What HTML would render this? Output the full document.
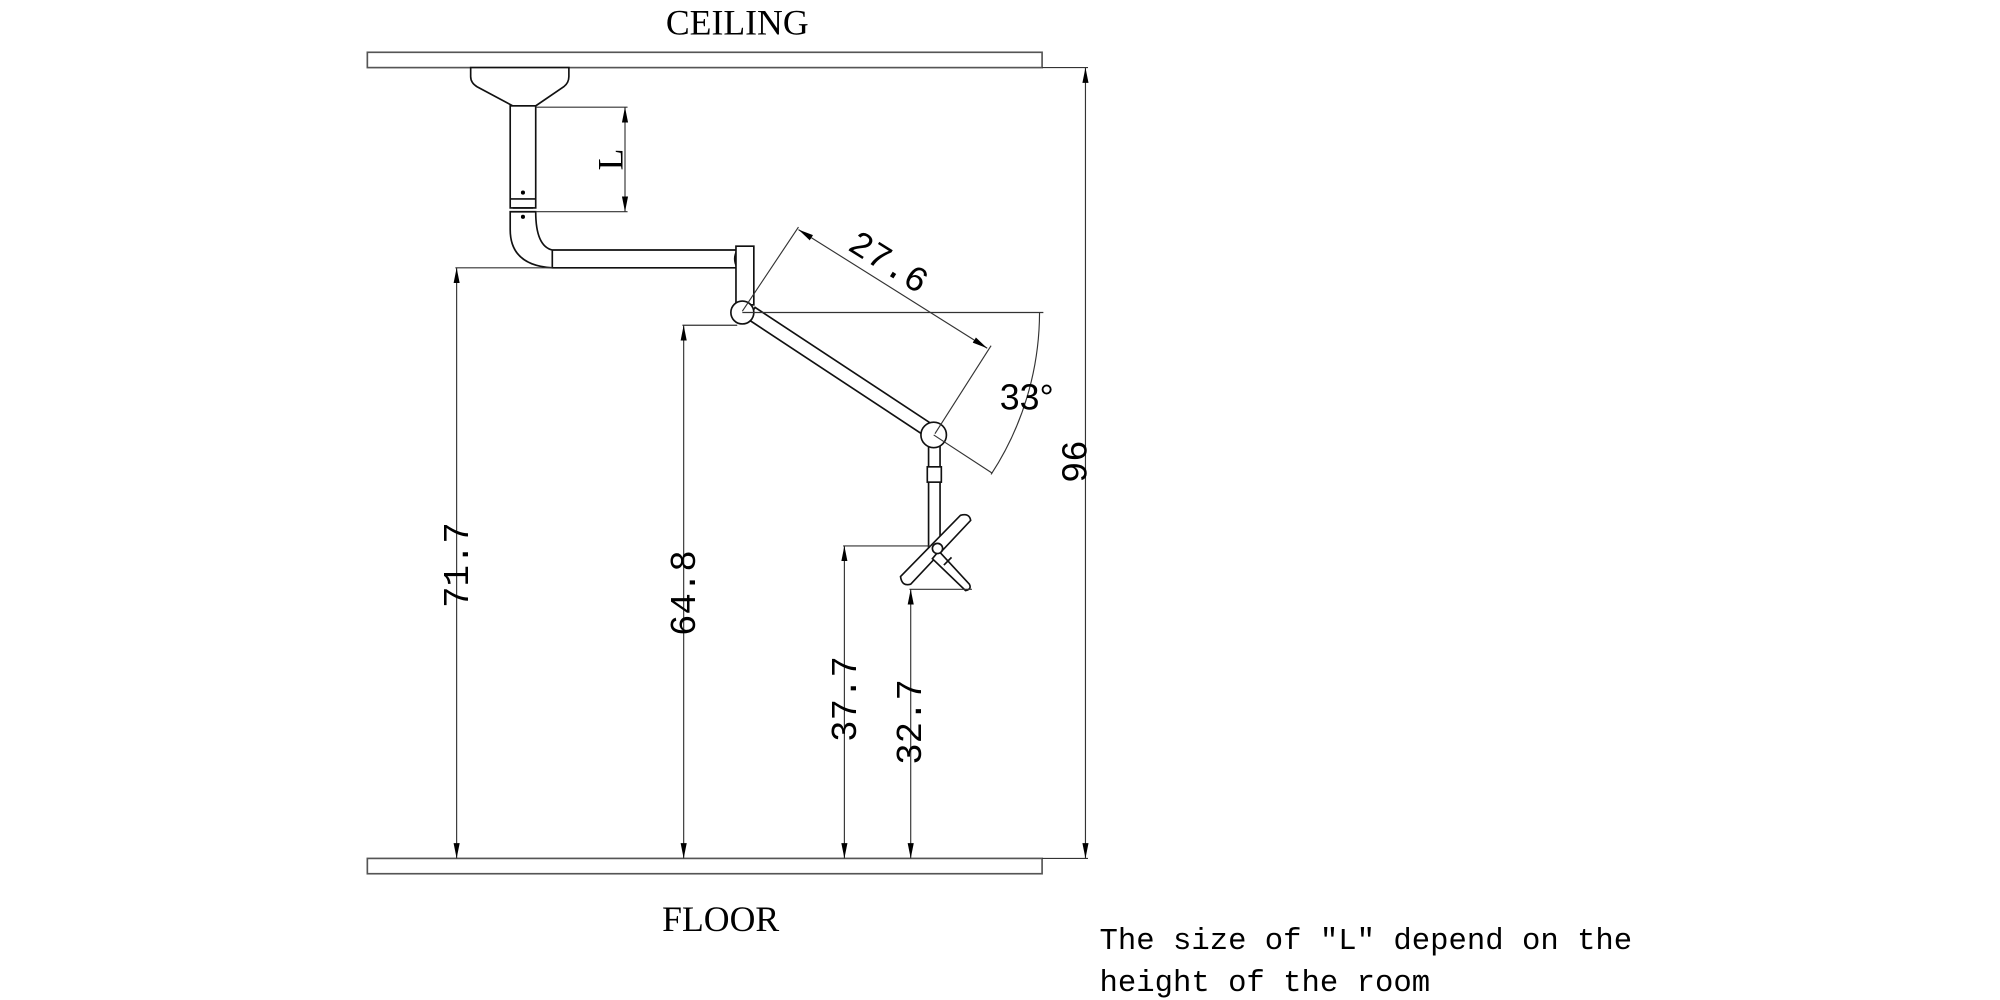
<!DOCTYPE html>
<html><head><meta charset="utf-8"><style>
html,body{margin:0;padding:0;background:#fff;}
svg{display:block;}
text{font-family:"Liberation Mono",monospace;fill:#000;}
</style></head><body>
<svg width="2000" height="1000" viewBox="0 0 1568 784" xmlns="http://www.w3.org/2000/svg">
<defs>
<marker id="a" viewBox="0 0 12 10" refX="12" refY="5" markerWidth="12" markerHeight="10" markerUnits="userSpaceOnUse" orient="auto-start-reverse"><path d="M0,2.6 L12,5 L0,7.4 Z" fill="#000"/></marker>
</defs>
<g fill="none" stroke="#555" stroke-width="1.3">
<rect x="288" y="41" width="529" height="12" fill="#fff"/>
<rect x="288" y="673" width="529" height="12" fill="#fff"/>
</g>
<text x="578" y="27" font-size="28" text-anchor="middle" style="font-family:'Liberation Serif',serif">CEILING</text>
<text x="565" y="730" font-size="28" text-anchor="middle" style="font-family:'Liberation Serif',serif">FLOOR</text>
<text x="862" y="744" font-size="24">The size of ″L″ depend on the</text>
<text x="862" y="777" font-size="24">height of the room</text>

<g fill="#fff" stroke="#111" stroke-width="1.3">
<path d="M369,53 L446,53 L446,60 Q446,65 442,68 L420,83 L402,83 L374,68 Q369,65 369,60 Z"/>
<rect x="400" y="83" width="20" height="80"/>
<line x1="400" y1="156" x2="420" y2="156"/>
<path d="M400,166 L400,180 Q400,208 433,210 L578,210 Q574,203 578,196 L433,196 Q420,193 420,166 Z"/>
<line x1="402" y1="163" x2="418" y2="163"/>
<line x1="433" y1="196" x2="433" y2="210"/>
<rect x="577" y="193" width="14" height="46"/>
<path d="M586,250 L730,345 L736,336 L592,241 Z"/>
<circle cx="582" cy="245" r="9"/>
<rect x="728" y="348" width="9" height="82"/>
<rect x="727" y="366" width="11" height="12"/>
<path d="M706,452 L753,404 Q760,402 761,408 L714,458 Q707,460 706,452 Z"/>
<path d="M736,432 L760,458 Q762,462 757,463 L731,438 Z"/>
<line x1="740" y1="443" x2="746" y2="437"/>
<circle cx="735" cy="430" r="4"/>
<circle cx="732" cy="341" r="10"/>
</g>
<g fill="#000"><circle cx="410" cy="151" r="1.6"/><circle cx="410" cy="170" r="1.6"/></g>

<g stroke="#333" stroke-width="0.9" fill="none">
<line x1="420" y1="84" x2="492" y2="84"/><line x1="420" y1="166" x2="492" y2="166"/>
<line x1="490" y1="84" x2="490" y2="166" marker-start="url(#a)" marker-end="url(#a)"/>
<line x1="357" y1="210" x2="433" y2="210"/>
<line x1="358" y1="210" x2="358" y2="673" marker-start="url(#a)" marker-end="url(#a)"/>
<line x1="535" y1="255" x2="578" y2="255"/>
<line x1="536" y1="255" x2="536" y2="673" marker-start="url(#a)" marker-end="url(#a)"/>
<line x1="661" y1="428" x2="730" y2="428"/>
<line x1="662" y1="428" x2="662" y2="673" marker-start="url(#a)" marker-end="url(#a)"/>
<line x1="713" y1="462" x2="762" y2="462"/>
<line x1="714" y1="462" x2="714" y2="673" marker-start="url(#a)" marker-end="url(#a)"/>
<line x1="817" y1="53" x2="853" y2="53"/><line x1="817" y1="673" x2="853" y2="673"/>
<line x1="851" y1="53" x2="851" y2="673" marker-start="url(#a)" marker-end="url(#a)"/>
<line x1="582" y1="244" x2="626" y2="178"/>
<line x1="733" y1="340" x2="777" y2="271"/>
<line x1="626" y1="180" x2="774" y2="273" marker-start="url(#a)" marker-end="url(#a)"/>
<line x1="582" y1="245" x2="818" y2="245"/>
<line x1="732" y1="341" x2="778" y2="371"/>
<path d="M815,245 A233,233 0 0 1 777,372"/>
</g>

<g font-size="28">
<text transform="translate(488,125) rotate(-90)" text-anchor="middle" style="font-family:'Liberation Serif',serif">L</text>
<text transform="translate(367,443) rotate(-90)" text-anchor="middle">71.7</text>
<text transform="translate(545,465) rotate(-90)" text-anchor="middle">64.8</text>
<text transform="translate(671,548) rotate(-90)" text-anchor="middle">37.7</text>
<text transform="translate(722,566) rotate(-90)" text-anchor="middle">32.7</text>
<text transform="translate(852,362) rotate(-90)" text-anchor="middle">96</text>
<text transform="translate(692,213) rotate(32)" text-anchor="middle">27.6</text>
<text x="805" y="321" text-anchor="middle" style="font-family:'Liberation Sans',sans-serif">33°</text>
</g>
</svg>
</body></html>
